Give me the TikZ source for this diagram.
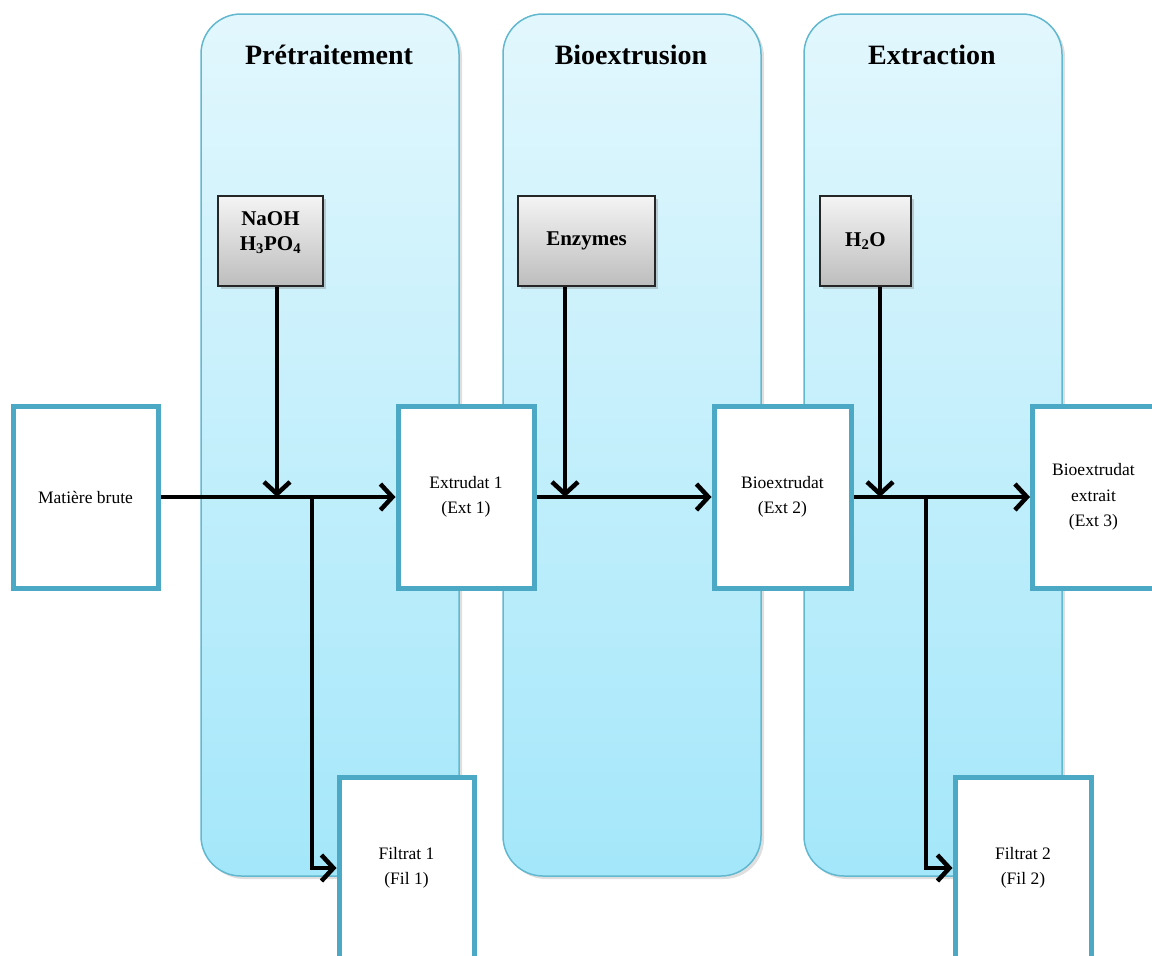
\documentclass[tikz,border=0pt]{standalone}
\usepackage{fontspec}
\setmainfont{Liberation Serif}
\usetikzlibrary{arrows.meta,shadows,calc}
\definecolor{panelTop}{HTML}{E2F7FD}
\definecolor{panelBot}{HTML}{A4E7FA}
\definecolor{panelEdge}{HTML}{62B8CF}
\definecolor{boxEdge}{HTML}{4CA9C5}
\definecolor{grayTop}{HTML}{F4F4F4}
\definecolor{grayBot}{HTML}{BDBDBD}
\tikzset{
  panel/.style={draw=panelEdge, line width=1.5pt, rounded corners=40pt,
    top color=panelTop, bottom color=panelBot,
    drop shadow={shadow xshift=3pt, shadow yshift=-3pt, opacity=0.25},
    minimum width=258pt, minimum height=862pt, inner sep=0pt},
  header/.style={font=\fontsize{28}{30}\selectfont\bfseries, inner sep=0pt},
  stuff/.style={draw=boxEdge, line width=5pt, fill=white,
    drop shadow={shadow xshift=2pt, shadow yshift=-2pt, opacity=0.2},
    minimum height=182pt, inner sep=0pt, align=center,
    font=\fontsize{17.5}{25.5}\selectfont},
  reagent/.style={draw=black!85, line width=1.8pt, top color=grayTop, bottom color=grayBot,
    drop shadow={shadow xshift=2.5pt, shadow yshift=-2.5pt, opacity=0.35},
    minimum height=90pt, inner sep=0pt, align=center,
    font=\fontsize{21}{25}\selectfont\bfseries},
  conn/.style={line width=4pt, -{Straight Barb[length=12pt,width=26pt,line width=4.5pt]}},
}
\begin{document}
\begin{tikzpicture}[x=1pt,y=-1pt]
\useasboundingbox (0,0) rectangle (1152,956);
\clip (0,0) rectangle (1152,956);
% panels
\node[panel] (p1) at (330,445) {};
\node[panel] (p2) at (632,445) {};
\node[panel] (p3) at (933,445) {};
\node[header] (h1) at (329,55) {Prétraitement};
\node[header] (h2) at (631,55) {Bioextrusion};
\node[header] (h3) at (932,55) {Extraction};
% reagents
\node[reagent, minimum width=105pt, text height=30pt, text depth=12pt] (naoh) at (270.5,241) {NaOH\\H\textsubscript{3}PO\textsubscript{4}};
\node[reagent, minimum width=137pt] (enz) at (586.5,241) {Enzymes};
\node[reagent, minimum width=91pt] (h2o) at (865.5,241) {H\textsubscript{2}O};
% material boxes
\node[stuff, minimum width=145pt] (mb) at (85.5,497) {Matière brute};
\node[stuff, minimum width=136pt] (e1) at (466,497) {Extrudat 1\\(Ext 1)};
\node[stuff, minimum width=137pt] (e2) at (782.5,497) {Bioextrudat\\(Ext 2)};
\node[stuff, minimum width=122pt, anchor=west] (e3) at (1030,497) {Bioextrudat\\extrait\\(Ext 3)};
\node[stuff, minimum width=135pt] (f1) at (406.5,868) {Filtrat 1\\(Fil 1)};
\node[stuff, minimum width=136pt] (f2) at (1023,868) {Filtrat 2\\(Fil 2)};
% junctions
\coordinate (j1) at (277,497);
\coordinate (b1) at (312,497);
\coordinate (j2) at (565,497);
\coordinate (j3) at (880,497);
\coordinate (b3) at (926,497);
% connectors
\draw[conn] (mb.east) -- (e1.west);
\draw[conn] (j1 |- naoh.south) -- (j1);
\draw[conn] (b1) |- (f1.west);
\draw[conn] (e1.east) -- (e2.west);
\draw[conn] (j2 |- enz.south) -- (j2);
\draw[conn] (e2.east) -- (e3.west);
\draw[conn] (j3 |- h2o.south) -- (j3);
\draw[conn] (b3) |- (f2.west);
\end{tikzpicture}
\end{document}
